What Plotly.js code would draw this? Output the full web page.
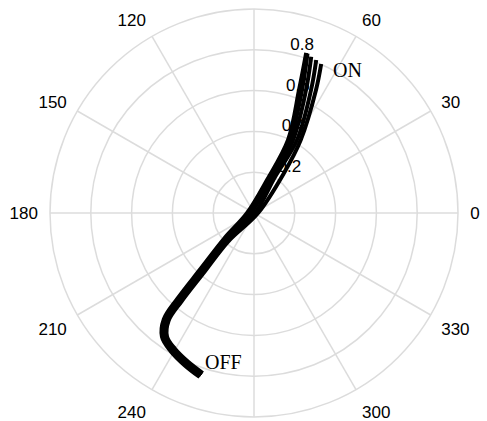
<!DOCTYPE html>
<html>
<head>
<meta charset="utf-8">
<script src="https://cdn.plot.ly/plotly-3.0.1.min.js"></script>
<style>html,body{margin:0;padding:0;background:#fff;}#chart{width:487px;height:421px;}</style>
</head>
<body>
<div id="chart"></div>
<script>
// Trajectories (r on 0..1 radial scale, theta in degrees)
const r1 = [0.847, 0.820, 0.791, 0.756, 0.683, 0.562, 0.377, 0.192, 0.034, 0.174, 0.395, 0.642, 0.826];
const theta1 = [251.66, 245.46, 238.92, 233.36, 229.67, 228.18, 226.22, 220.55, 180, 68.5, 65.03, 69.9, 71.96];
const r2 = [0.839, 0.812, 0.784, 0.751, 0.680, 0.562, 0.376, 0.190, 0.025, 0.178, 0.399, 0.647, 0.825];
const theta2 = [251.85, 245.63, 239.21, 233.87, 230.33, 229.03, 227.47, 223.0, 180, 65.56, 63.75, 68.68, 71.46];
const r3 = [0.835, 0.808, 0.781, 0.748, 0.678, 0.561, 0.376, 0.190, 0.015, 0.187, 0.406, 0.655, 0.816];
const theta3 = [251.95, 245.72, 239.35, 234.11, 230.63, 229.43, 228.07, 224.17, 180, 62.77, 61.89, 67.08, 69.90];
const r4 = [0.832, 0.805, 0.777, 0.746, 0.677, 0.561, 0.375, 0.190, 0.005, 0.204, 0.415, 0.665, 0.810];
const theta4 = [252.04, 245.81, 239.48, 234.36, 230.93, 229.83, 228.66, 225.34, 0, 59.74, 59.5, 65.13, 67.88];
const r5 = [0.824, 0.797, 0.770, 0.741, 0.674, 0.561, 0.375, 0.189, 0.020, 0.240, 0.425, 0.675, 0.801];
const theta5 = [252.24, 245.99, 239.78, 234.88, 231.59, 230.68, 229.93, 227.84, 0, 53.0, 57.4, 63.25, 65.73];

const angularTicks = [0, 30, 60, 90, 120, 150, 180, 210, 240, 270, 300, 330];
const angularLabels = ["0", "30", "60", "", "120", "150", "180", "210", "240", "", "300", "330"];
const radialTicks = [0.2, 0.4, 0.6, 0.8];
const radialLabels = ["0.2", "0.4", "0.6", "0.8"];
const endLabels = ["ON", "OFF"];

const series = [[r1, theta1], [r2, theta2], [r3, theta3], [r4, theta4], [r5, theta5]];
const traces = series.map(([r, t]) => ({
  type: 'scatterpolar', mode: 'lines', r: r, theta: t,
  line: {color: '#000000', width: 4, shape: 'spline', smoothing: 1}, hoverinfo: 'skip'
}));

const grid = '#dcdcdc';
const layout = {
  width: 487, height: 421,
  margin: {l: 50, r: 29, t: 9, b: 4},
  paper_bgcolor: '#ffffff',
  showlegend: false,
  font: {family: 'Arial, "Liberation Sans", sans-serif', size: 17, color: '#000'},
  polar: {
    domain: {x: [0, 1], y: [0, 1]},
    bgcolor: '#ffffff',
    radialaxis: {
      range: [0, 1], tickvals: radialTicks,
      ticktext: radialLabels.map(s => s + '<br> '),
      angle: 84, tickangle: 84, showline: false,
      ticks: 'outside', ticklen: 7, tickcolor: 'rgba(0,0,0,0)',
      gridcolor: grid, gridwidth: 1.5, layer: 'below traces',
      tickfont: {size: 17, color: '#000'}
    },
    angularaxis: {
      rotation: 0, direction: 'counterclockwise',
      tickvals: angularTicks, ticktext: angularLabels,
      ticks: 'outside', ticklen: 8, tickcolor: 'rgba(0,0,0,0)',
      showline: true, linecolor: grid, linewidth: 1.5, layer: 'below traces',
      gridcolor: grid, gridwidth: 1.5,
      tickfont: {size: 17, color: '#000'}
    }
  },
  annotations: [
    {xref: 'paper', yref: 'paper', x: 0.770, y: 0.883, text: endLabels[0], showarrow: false,
     font: {family: '"Liberation Serif", "Times New Roman", serif', size: 20, color: '#000'}},
    {xref: 'paper', yref: 'paper', x: 0.426, y: 0.104, text: endLabels[1], showarrow: false,
     font: {family: '"Liberation Serif", "Times New Roman", serif', size: 20, color: '#000'}}
  ]
};
Plotly.newPlot('chart', traces, layout, {displayModeBar: false, staticPlot: true});
</script>
</body>
</html>
